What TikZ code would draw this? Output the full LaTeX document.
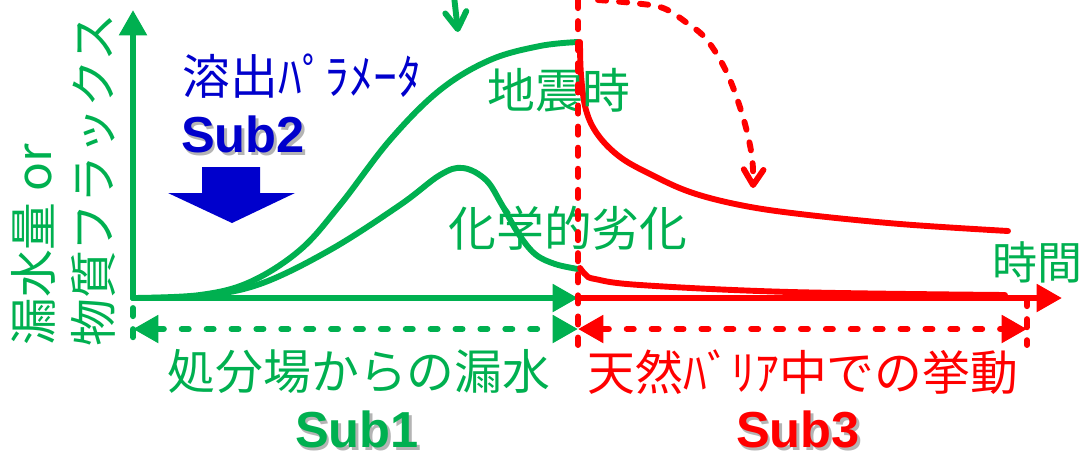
\documentclass[tikz,border=0pt]{standalone}
\usepackage{fontspec}
\newfontfamily\jpfont{Noto Sans CJK JP}
\newfontfamily\subfont{Liberation Sans}
\usetikzlibrary{arrows.meta}
\definecolor{leakGreen}{HTML}{00B050}
\definecolor{barRed}{HTML}{FF0000}
\definecolor{paramBlue}{HTML}{0000CC}
\definecolor{shadowGray}{HTML}{B4B4B4}

% text with a soft drop shadow
\newcommand{\shadowed}[1]{\rlap{\hspace{2pt}\raisebox{-2pt}{\textcolor{shadowGray}{#1}}}#1}

\tikzset{
  bigtri/.tip={Triangle[length=18pt,width=19pt]},
  curve/.style={line width=4.2pt, line cap=round, line join=round},
  dashline/.style={line width=4.2pt, line cap=round, dash pattern=on 5pt off 12.7pt},
  vdash/.style={line width=4.2pt, line cap=round, dash pattern=on 5.8pt off 9.2pt},
  jplabel/.style={inner sep=0pt, font=\jpfont\fontsize{34}{40}\selectfont},
  sublabel/.style={inner sep=0pt, font=\subfont\bfseries\fontsize{36}{42}\selectfont},
}

\begin{document}
\begin{tikzpicture}[x=0.025cm, y=-0.025cm, >=bigtri]
    \useasboundingbox (0,0) rectangle (1087,462);

    % axis and range points
    \coordinate (O) at (133,298);
    \coordinate (ytop) at (133,10);
    \coordinate (xmid) at (578,298);
    \coordinate (xend) at (1062,298);
    \coordinate (lo) at (133,329);
    \coordinate (mid) at (578,329);
    \coordinate (hi) at (1027,329);

    % range ticks
    \draw[leakGreen, vdash] (133,308) -- (133,345);
    \draw[barRed, vdash] (1027,298) -- (1027,345);

    % axes
    \draw[leakGreen, curve, ->] (O) -- (ytop);
    \draw[leakGreen, curve, ->] (O) -- (xmid);
    \draw[barRed, curve, ->] (xmid) -- (xend);

    % ranges Sub1 / Sub3
    \draw[leakGreen, dashline, <->] (lo) -- (mid);
    \draw[barRed, dashline, <->] (mid) -- (hi);

    % leakage curves
    \draw[leakGreen, curve] plot[smooth, tension=0.6] coordinates {(133,298) (200,295) (250,282) (300,250) (340,205) (390,140) (440,90) (490,60) (540,46) (578,42)};
    \draw[leakGreen, curve] plot[smooth, tension=0.6] coordinates {(133,298) (200,296) (260,284) (330,250) (400,205) (440,175) (463,168) (486,180) (502,205) (518,233) (535,254) (555,264) (578,269)};

    % natural barrier curves
    \draw[barRed, curve] plot[smooth, tension=0.6] coordinates {(580,42) (581,75) (586,110) (598,135) (620,157) (650,174) (690,192) (740,205) (800,214) (900,224) (1008,231)};
    \draw[barRed, curve] plot[smooth, tension=0.6] coordinates {(580,268) (586,275) (595,279) (640,285) (790,292) (1005,295)};

    % dashed drop arrow
    \draw[barRed, vdash, -{Straight Barb[length=11pt,width=14pt,round]}] plot[smooth, tension=0.6] coordinates {(598,0) (633,3) (663,8) (687,23) (707,40) (727,73) (743,117) (752,157) (753,188)};

    % green mark at top
    \draw[leakGreen, curve, -{Straight Barb[length=12pt,width=15pt,round]}] (454,-4) -- (458,32);

    % Sub2 block arrow
    \fill[paramBlue] (202,167) -- (260,167) -- (260,193) -- (295,193) -- (232,223) -- (168,193) -- (202,193) -- cycle;

    % labels
    \node[jplabel, text=paramBlue] (param) at (302,76) {溶出ﾊﾟﾗﾒｰﾀ};
    \node[sublabel, text=paramBlue] (sub2) at (243,136) {\shadowed{Sub2}};
    \node[jplabel, text=leakGreen] (quake) at (559,90) {地震時};
    \node[jplabel, text=leakGreen] (chem) at (568,228) {化学的劣化};
    \node[jplabel, text=leakGreen, font=\jpfont\fontsize{32}{38}\selectfont] (time) at (1037,262) {時間};
    \node[jplabel, text=leakGreen] (leak) at (359,371) {処分場からの漏水};
    \node[jplabel, text=barRed] (natural) at (803,372) {天然ﾊﾞﾘｱ中での挙動};
    \node[sublabel, text=leakGreen] (sub1) at (357,431) {\shadowed{Sub1}};
    \node[sublabel, text=barRed] (sub3) at (798,431) {\shadowed{Sub3}};
    \node[jplabel, text=leakGreen, rotate=90, anchor=west] (yamount) at (33,346) {漏水量 or};
    \node[jplabel, text=leakGreen, rotate=90, anchor=west] (yflux) at (93,347) {物質フラックス};

    % boundary of Sub1 and Sub3
    \draw[barRed, vdash] (578,0) -- (578,345);

\end{tikzpicture}
\end{document}
